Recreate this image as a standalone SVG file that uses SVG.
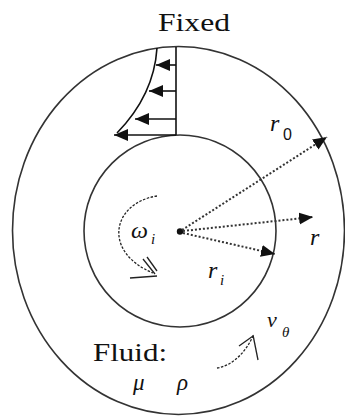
<svg xmlns="http://www.w3.org/2000/svg" width="345" height="417" viewBox="0 0 345 417">
<defs>
<style>
.wall{fill:none;stroke:#333;stroke-width:1.6}
.prof{fill:none;stroke:#111;stroke-width:1.6}
.dot{fill:none;stroke:#333;stroke-width:2;stroke-dasharray:2 2}
.dash{fill:none;stroke:#222;stroke-width:1.3;stroke-dasharray:2.5 1.5}
.barb{fill:none;stroke:#222;stroke-width:1.3}
text{fill:#111}
.math{font-style:italic}
</style>
<marker id="tri" markerUnits="userSpaceOnUse" markerWidth="16" markerHeight="14" refX="14" refY="6" orient="auto">
<path d="M0,0 L14,6 L0,12 Z" fill="#111"/>
</marker>
</defs>
<rect width="345" height="417" fill="#fff"/>
<g id="outer-cylinder"><ellipse class="wall" cx="178.5" cy="230.5" rx="166" ry="184"/></g>
<g id="inner-cylinder"><circle class="wall" cx="180" cy="231" r="96"/></g>
<g id="center"><circle cx="180" cy="231.5" r="3.2" fill="#111"/></g>
<g id="velocity-profile">
<line class="prof" x1="176" y1="47" x2="176" y2="135"/>
<path class="prof" d="M157,48 Q154,95 117,133"/>
<line class="prof" x1="176" y1="65" x2="156" y2="65" marker-end="url(#tri)"/>
<line class="prof" x1="176" y1="91" x2="149" y2="91" marker-end="url(#tri)"/>
<line class="prof" x1="176" y1="119" x2="135" y2="119" marker-end="url(#tri)"/>
<line class="prof" x1="176" y1="135" x2="114" y2="135" marker-end="url(#tri)"/>
</g>
<g id="connectors">
<line class="dot" x1="182" y1="230" x2="327" y2="137" marker-end="url(#tri)"/>
<line class="dot" x1="183" y1="231" x2="313" y2="217" marker-end="url(#tri)"/>
<line class="dot" x1="183" y1="233" x2="275" y2="254" marker-end="url(#tri)"/>
</g>
<g id="omega-arrow">
<path class="dash" d="M157,196 C112,203 102,252 153,273"/>
<line class="barb" x1="143" y1="259" x2="155" y2="274"/>
<line class="barb" x1="147" y1="257" x2="157" y2="271"/>
<line class="barb" x1="130" y1="278" x2="157" y2="276"/>
</g>
<g id="v-arrow">
<path class="dash" d="M217,368 C232,366 246,352 253,336"/>
<line class="barb" x1="253" y1="335" x2="258" y2="360"/>
<line class="barb" x1="253" y1="336" x2="239" y2="346"/>
</g>
<g id="labels" font-family="Liberation Serif, Times New Roman, serif">
<text x="158" y="31" font-size="25" textLength="72" lengthAdjust="spacingAndGlyphs">Fixed</text>
<text x="93" y="361" font-size="25" textLength="74" lengthAdjust="spacingAndGlyphs">Fluid:</text>
<text class="math" x="270" y="131" font-size="24">r</text>
<text x="283" y="140" font-size="16" font-family="Liberation Sans, Arial, sans-serif">0</text>
<text class="math" x="310" y="245" font-size="24">r</text>
<text class="math" x="208" y="278" font-size="24">r</text>
<text class="math" x="220" y="285" font-size="15">i</text>
<text class="math" x="131" y="238" font-size="24">ω</text>
<text class="math" x="151" y="244" font-size="15">i</text>
<text class="math" x="267" y="327" font-size="22">ν</text>
<text class="math" x="282" y="337" font-size="15">θ</text>
<text class="math" x="133" y="390" font-size="23">μ</text>
<text class="math" x="177" y="390" font-size="23">ρ</text>
</g>
</svg>
